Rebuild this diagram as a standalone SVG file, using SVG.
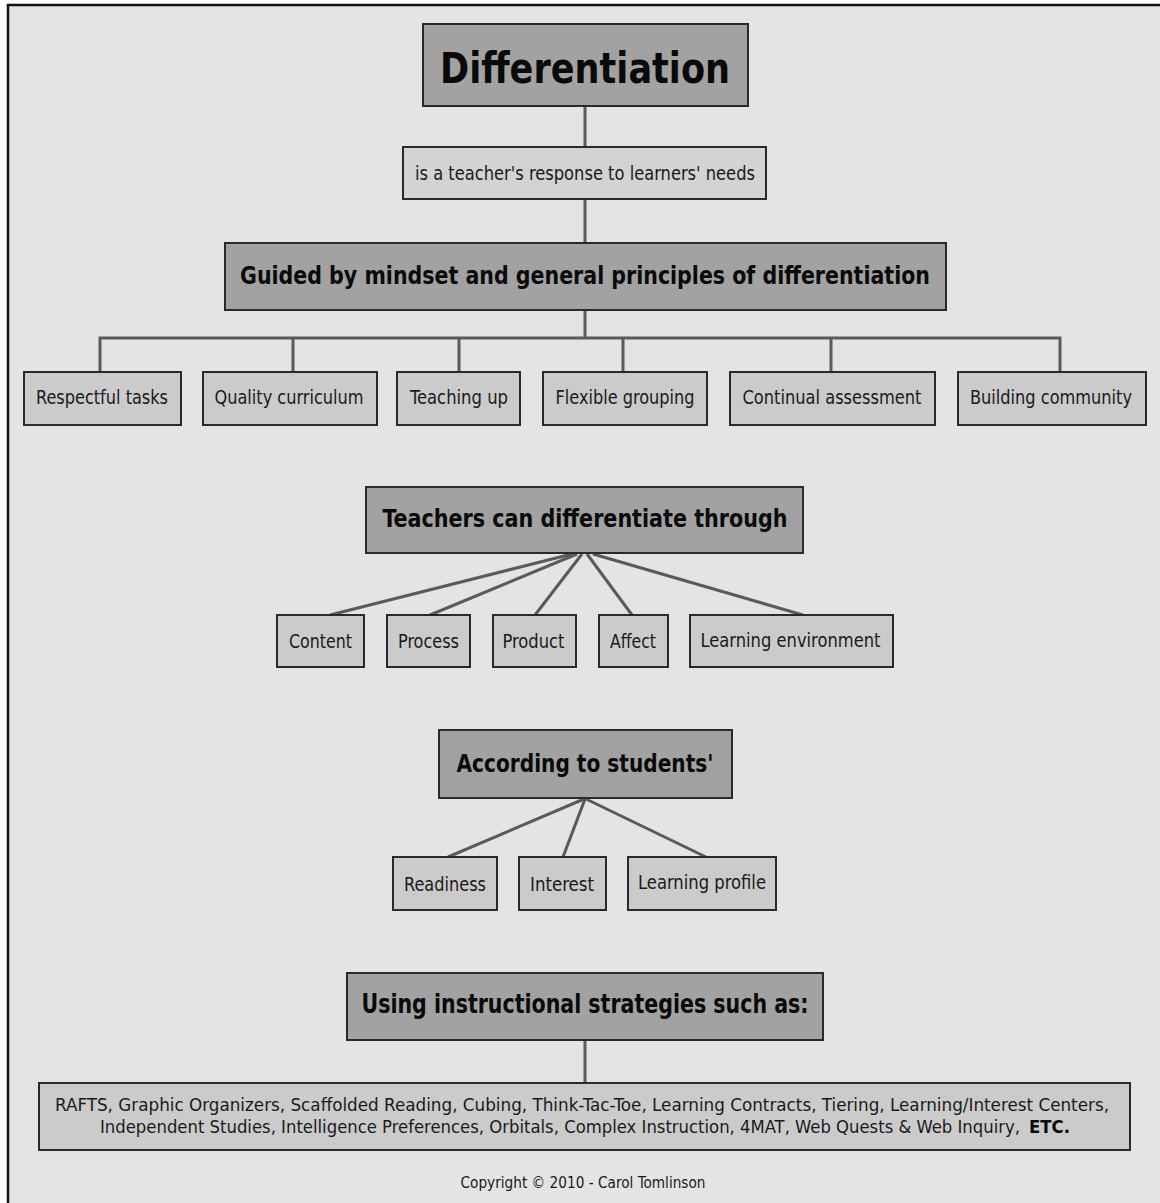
<svg xmlns="http://www.w3.org/2000/svg" width="1160" height="1203" viewBox="0 0 1160 1203">
<style>
.dark{fill:#a2a2a2;stroke:#2a2a2a;stroke-width:2}
.light{fill:#cbcbcb;stroke:#2a2a2a;stroke-width:2}
.pale{fill:#d3d3d3;stroke:#2a2a2a;stroke-width:2}
.t{font-family:"DejaVu Sans Condensed","DejaVu Sans",sans-serif;fill:#1a1a1a}
.b{font-weight:bold;fill:#0a0a0a}
.c{stroke:#5a5a5a;stroke-width:3;fill:none}
</style>
<rect x="0" y="0" width="1160" height="1203" fill="#ffffff"/>
<rect x="8" y="5" width="1152" height="1198" fill="#e4e4e4"/>
<line x1="7" y1="5" x2="1160" y2="5" stroke="#111" stroke-width="2.5"/>
<line x1="8" y1="4" x2="8" y2="1203" stroke="#111" stroke-width="2.5"/>

<g id="connectors">
<line class="c" x1="585" y1="106" x2="585" y2="147"/>
<line class="c" x1="585" y1="199" x2="585" y2="243"/>
<line class="c" x1="585" y1="310" x2="585" y2="338"/>
<polyline class="c" points="100,372 100,338 1060,338 1060,372"/>
<line class="c" x1="293" y1="338" x2="293" y2="372"/>
<line class="c" x1="459" y1="338" x2="459" y2="372"/>
<line class="c" x1="623" y1="338" x2="623" y2="372"/>
<line class="c" x1="831" y1="338" x2="831" y2="372"/>
<line class="c" x1="572" y1="554" x2="330" y2="615"/>
<line class="c" x1="577" y1="554" x2="430" y2="615"/>
<line class="c" x1="582" y1="554" x2="535" y2="615"/>
<line class="c" x1="587" y1="554" x2="632" y2="615"/>
<line class="c" x1="593" y1="554" x2="803" y2="615"/>
<line class="c" x1="584" y1="799" x2="448" y2="857"/>
<line class="c" x1="585" y1="799" x2="563" y2="857"/>
<line class="c" x1="586" y1="799" x2="706" y2="857"/>
<line class="c" x1="585" y1="1040" x2="585" y2="1083"/>
</g>

<g id="n-differentiation">
<rect class="dark" x="423" y="24" width="325" height="82"/>
<text class="t b" x="585" y="83" font-size="43" text-anchor="middle" textLength="290" lengthAdjust="spacingAndGlyphs">Differentiation</text>
</g>
<g id="n-response">
<rect class="pale" x="403" y="147" width="363" height="52"/>
<text class="t" x="585" y="180" font-size="20" text-anchor="middle" textLength="340" lengthAdjust="spacingAndGlyphs">is a teacher's response to learners' needs</text>
</g>
<g id="n-guided">
<rect class="dark" x="225" y="243" width="721" height="67"/>
<text class="t b" x="585" y="284" font-size="25" text-anchor="middle" textLength="690" lengthAdjust="spacingAndGlyphs">Guided by mindset and general principles of differentiation</text>
</g>

<g id="n-respectful">
<rect class="light" x="24" y="372" width="157" height="53"/>
<text class="t" x="102" y="404" font-size="19" text-anchor="middle" textLength="132" lengthAdjust="spacingAndGlyphs">Respectful tasks</text>
</g>
<g id="n-quality">
<rect class="light" x="203" y="372" width="174" height="53"/>
<text class="t" x="289" y="404" font-size="19" text-anchor="middle" textLength="149" lengthAdjust="spacingAndGlyphs">Quality curriculum</text>
</g>
<g id="n-teaching">
<rect class="light" x="397" y="372" width="123" height="53"/>
<text class="t" x="459" y="404" font-size="19" text-anchor="middle" textLength="98" lengthAdjust="spacingAndGlyphs">Teaching up</text>
</g>
<g id="n-flexible">
<rect class="light" x="543" y="372" width="164" height="53"/>
<text class="t" x="625" y="404" font-size="19" text-anchor="middle" textLength="139" lengthAdjust="spacingAndGlyphs">Flexible grouping</text>
</g>
<g id="n-continual">
<rect class="light" x="730" y="372" width="205" height="53"/>
<text class="t" x="832" y="404" font-size="19" text-anchor="middle" textLength="179" lengthAdjust="spacingAndGlyphs">Continual assessment</text>
</g>
<g id="n-building">
<rect class="light" x="958" y="372" width="188" height="53"/>
<text class="t" x="1051" y="404" font-size="19" text-anchor="middle" textLength="162" lengthAdjust="spacingAndGlyphs">Building community</text>
</g>

<g id="n-teachers">
<rect class="dark" x="366" y="487" width="437" height="66"/>
<text class="t b" x="585" y="527" font-size="25" text-anchor="middle" textLength="405" lengthAdjust="spacingAndGlyphs">Teachers can differentiate through</text>
</g>
<g id="n-content">
<rect class="light" x="277" y="615" width="87" height="52"/>
<text class="t" x="320.5" y="648" font-size="19" text-anchor="middle" textLength="63" lengthAdjust="spacingAndGlyphs">Content</text>
</g>
<g id="n-process">
<rect class="light" x="387" y="615" width="83" height="52"/>
<text class="t" x="428.5" y="648" font-size="19" text-anchor="middle" textLength="61" lengthAdjust="spacingAndGlyphs">Process</text>
</g>
<g id="n-product">
<rect class="light" x="493" y="615" width="83" height="52"/>
<text class="t" x="533.5" y="648" font-size="19" text-anchor="middle" textLength="62" lengthAdjust="spacingAndGlyphs">Product</text>
</g>
<g id="n-affect">
<rect class="light" x="599" y="615" width="69" height="52"/>
<text class="t" x="633" y="648" font-size="19" text-anchor="middle" textLength="46" lengthAdjust="spacingAndGlyphs">Affect</text>
</g>
<g id="n-environment">
<rect class="light" x="690" y="615" width="203" height="52"/>
<text class="t" x="790.5" y="647" font-size="19" text-anchor="middle" textLength="180" lengthAdjust="spacingAndGlyphs">Learning environment</text>
</g>

<g id="n-according">
<rect class="dark" x="439" y="730" width="293" height="68"/>
<text class="t b" x="585" y="772" font-size="25" text-anchor="middle" textLength="257" lengthAdjust="spacingAndGlyphs">According to students'</text>
</g>
<g id="n-readiness">
<rect class="light" x="393" y="857" width="104" height="53"/>
<text class="t" x="445" y="891" font-size="19" text-anchor="middle" textLength="82" lengthAdjust="spacingAndGlyphs">Readiness</text>
</g>
<g id="n-interest">
<rect class="light" x="519" y="857" width="87" height="53"/>
<text class="t" x="562" y="891" font-size="19" text-anchor="middle" textLength="64" lengthAdjust="spacingAndGlyphs">Interest</text>
</g>
<g id="n-profile">
<rect class="light" x="628" y="857" width="148" height="53"/>
<text class="t" x="702" y="889" font-size="19" text-anchor="middle" textLength="128" lengthAdjust="spacingAndGlyphs">Learning profile</text>
</g>

<g id="n-using">
<rect class="dark" x="347" y="973" width="476" height="67"/>
<text class="t b" x="585" y="1013" font-size="26" text-anchor="middle" textLength="447" lengthAdjust="spacingAndGlyphs">Using instructional strategies such as:</text>
</g>
<g id="n-strategies">
<rect class="light" x="39" y="1083" width="1091" height="67"/>
<text class="t" x="55" y="1111" font-size="18.5" textLength="1054" lengthAdjust="spacingAndGlyphs">RAFTS, Graphic Organizers, Scaffolded Reading, Cubing, Think-Tac-Toe, Learning Contracts, Tiering,  Learning/Interest Centers,</text>
<text class="t" x="100" y="1133" font-size="18.5" textLength="920" lengthAdjust="spacingAndGlyphs">Independent Studies, Intelligence Preferences, Orbitals, Complex Instruction, 4MAT, Web Quests &amp; Web Inquiry,</text>
<text class="t b" x="1029" y="1133" font-size="18.5" textLength="41" lengthAdjust="spacingAndGlyphs">ETC.</text>
</g>
<text class="t" x="583" y="1188" font-size="15" text-anchor="middle" textLength="245" lengthAdjust="spacingAndGlyphs">Copyright © 2010 - Carol Tomlinson</text>
</svg>
